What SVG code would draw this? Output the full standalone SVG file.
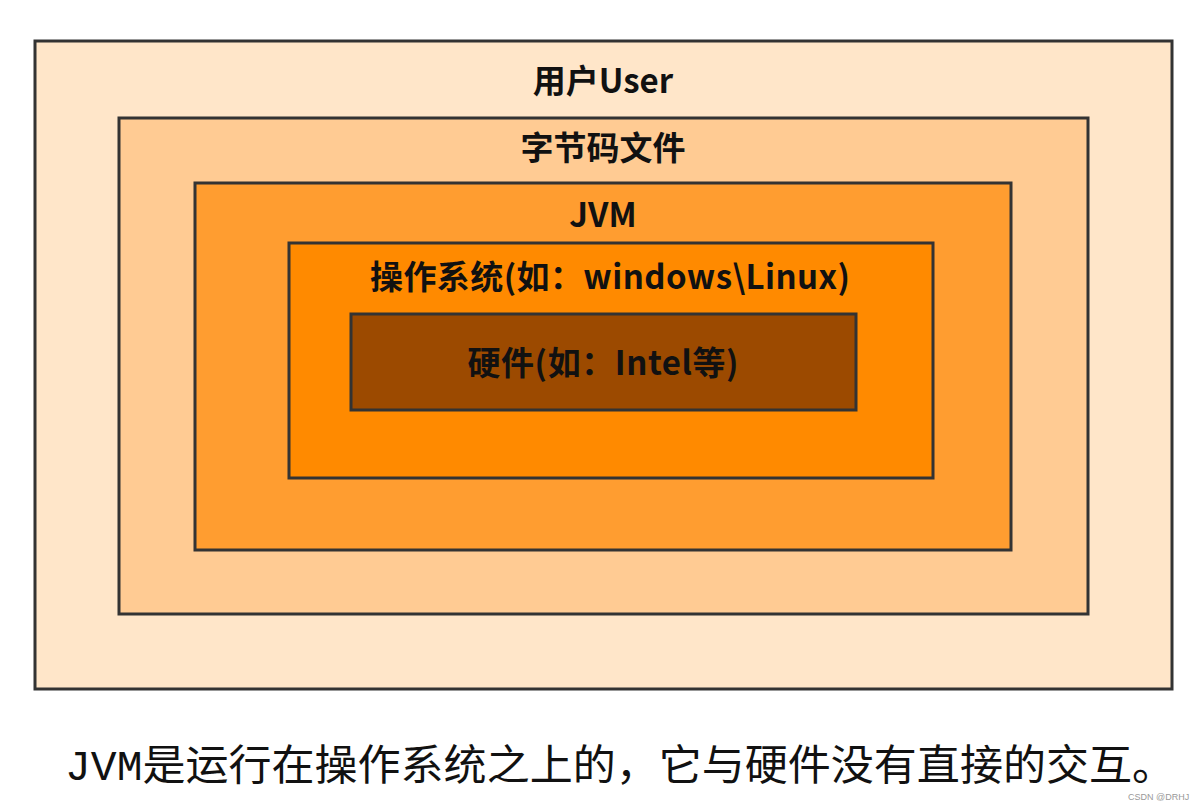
<svg xmlns="http://www.w3.org/2000/svg" width="1203" height="810" viewBox="0 0 1203 810">
<style>
.box{stroke:#333;stroke-width:3}
.lbl{font-family:"Noto Sans CJK SC","Liberation Sans",sans-serif;font-weight:bold;font-size:33px;fill:#111;text-anchor:middle}
.cap{font-family:"Liberation Mono","Noto Sans CJK SC",monospace;font-size:42px;fill:#111}
</style>
<rect width="1203" height="810" fill="#ffffff"/>
<g id="user"><rect class="box" x="35" y="41" width="1137" height="648" fill="#ffe6c9"/><text class="lbl" x="603" y="93">用户User</text></g>
<g id="bytecode"><rect class="box" x="119" y="118" width="969" height="496" fill="#ffcb93"/><text class="lbl" x="603" y="160">字节码文件</text></g>
<g id="jvm"><rect class="box" x="195" y="183" width="816" height="367" fill="#ff9d30"/><text class="lbl" x="603" y="227">JVM</text></g>
<g id="os"><rect class="box" x="289" y="243" width="644" height="235" fill="#ff8a00"/><text class="lbl" x="610" y="289" textLength="480" lengthAdjust="spacing">操作系统(如：windows\Linux)</text></g>
<g id="hw"><rect class="box" x="351" y="314" width="505" height="96" fill="#9c4a00"/><text class="lbl" x="603" y="375" textLength="271" lengthAdjust="spacing">硬件(如：Intel等)</text></g>
<g id="connectors"/>
<text class="cap" x="65" y="780" textLength="1110" lengthAdjust="spacingAndGlyphs">JVM是运行在操作系统之上的，它与硬件没有直接的交互。</text>
<text x="1128" y="800" font-family="Liberation Sans,sans-serif" font-size="9" fill="#999">CSDN @DRHJ</text>
</svg>
